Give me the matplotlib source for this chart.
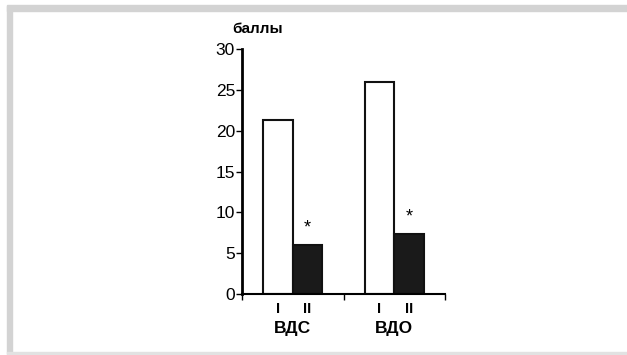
import numpy as np
import matplotlib.pyplot as plt
from matplotlib.patches import Rectangle

# Данные
groups = ['ВДС', 'ВДО']
periods = ['I', 'II']
vals_I = [21.3, 25.9]
vals_II = [6.0, 7.4]
stars = ['*', '*']

W, H = 627, 355
fig = plt.figure(figsize=(W / 100, H / 100), dpi=100)
plt.rcParams['font.family'] = ['Liberation Sans', 'DejaVu Sans']

# серая рамка
gray = '#d3d3d3'
fig.patches.append(Rectangle((7 / W, 1 - 11 / H), 1 - 7 / W, 6 / H, transform=fig.transFigure, color=gray, zorder=0))
fig.patches.append(Rectangle((7 / W, 1 / H), 5 / W, 1 - 6 / H - 1 / H, transform=fig.transFigure, color=gray, zorder=0))
fig.patches.append(Rectangle((7 / W, 1 / H), 1 - 7 / W, 2 / H, transform=fig.transFigure, color='#e2e2e2', zorder=0))

ax = fig.add_axes([242 / W, 61 / H, 203 / W, 245 / H])
x = np.arange(len(groups)) + 0.5
bw = 0.29
ax.bar(x - bw / 2, vals_I, bw, color='white', edgecolor='#111111', linewidth=1.5)
ax.bar(x + bw / 2, vals_II, bw, color='#1a1a1a', edgecolor='#111111', linewidth=1.5)
for xi, v, s in zip(x, vals_II, stars):
    ax.text(xi + bw / 2, v + 1.0, s, ha='center', va='bottom', fontsize=13)

ax.set_xlim(0, 2)
ax.set_ylim(0, 30)
ax.set_yticks(range(0, 31, 5))
ax.set_xticks([0, 1, 2])
ax.set_xticklabels([])
ax.tick_params(axis='y', labelsize=12.5, length=4, width=1, pad=1)
ax.tick_params(axis='x', length=4, width=1, direction='out')
for sp in ['top', 'right']:
    ax.spines[sp].set_visible(False)
ax.spines['left'].set_linewidth(2)
ax.spines['bottom'].set_linewidth(1.5)

# подписи I / II и группы
for xi, g in zip(x, groups):
    for off, p in zip([-bw / 2, bw / 2], periods):
        ax.text(xi + off, -1.0, p, ha='center', va='top', fontsize=10.5, fontweight='bold')
    ax.text(xi, -3.3, g, ha='center', va='top', fontsize=12.5, fontweight='bold')

ax.text(0.15, 31.6, 'баллы', ha='center', va='bottom', fontsize=11, fontweight='bold')

fig.savefig('out.png', dpi=100)
